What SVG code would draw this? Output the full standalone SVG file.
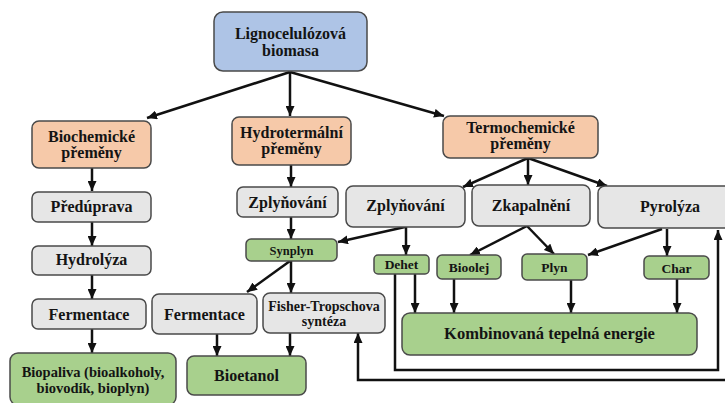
<svg xmlns="http://www.w3.org/2000/svg" width="725" height="403" viewBox="0 0 725 403">
<defs>
<marker id="ah" markerUnits="userSpaceOnUse" markerWidth="10" markerHeight="9" refX="10" refY="4.5" orient="auto">
<path d="M0,0 L10,4.5 L0,9 z" fill="#111"/>
</marker>
<style>
.box{stroke:#4a4a4a;stroke-width:1.5}
.blue{fill:#aec4e6}
.orange{fill:#f6c9a9}
.gray{fill:#e6e6e6}
.green{fill:#a8d08d}
text{font-family:'Liberation Serif','Times New Roman',serif;font-weight:bold;fill:#141414;text-anchor:middle;font-size:16px}
.sm{font-size:13.5px}
.bp{font-size:14.5px}
.ft{font-size:14px}
.ca{fill:none;stroke:#111;stroke-width:2.5;marker-end:url(#ah)}
</style>
</defs>
<rect width="725" height="403" fill="#fff"/>

<g id="connectors">
<path class="ca" d="M290,72 L147,118"/>
<path class="ca" d="M290,72 L290,116"/>
<path class="ca" d="M290,72 L444,116"/>
<path class="ca" d="M92,168 L92,191"/>
<path class="ca" d="M92,222 L92,246"/>
<path class="ca" d="M92,275 L92,299"/>
<path class="ca" d="M92,329 L92,353"/>
<path class="ca" d="M291,165 L291,187"/>
<path class="ca" d="M291,217 L291,239"/>
<path class="ca" d="M290,261 L247,292"/>
<path class="ca" d="M291,261 L291,293"/>
<path class="ca" d="M217,334 L217,356"/>
<path class="ca" d="M290,333 L290,356"/>
<path class="ca" d="M528,158 L463,187"/>
<path class="ca" d="M528,158 L528,185"/>
<path class="ca" d="M528,158 L607,186"/>
<path class="ca" d="M405,227 L338,242"/>
<path class="ca" d="M406,227 L406,255"/>
<path class="ca" d="M527,226 L470,255"/>
<path class="ca" d="M527,226 L554,254"/>
<path class="ca" d="M662,229 L588,255"/>
<path class="ca" d="M667,229 L667,256"/>
<path class="ca" d="M415,274 L415,313"/>
<path class="ca" d="M454,279 L454,313"/>
<path class="ca" d="M571,280 L571,313"/>
<path class="ca" d="M677,279 L677,313"/>
<path class="ca" d="M395,274 L395,370 L718,370 L718,230"/>
<path class="ca" d="M726,380 L358,380 L358,333"/>
</g>

<g id="n-biomasa">
<rect class="box blue" x="214" y="12" width="153" height="59" rx="9"/>
<text x="290.5" y="39">Lignocelulózová</text>
<text x="290.5" y="56">biomasa</text>
</g>
<g id="n-bio">
<rect class="box orange" x="32" y="121" width="119" height="47" rx="7"/>
<text x="91.5" y="142">Biochemické</text>
<text x="91.5" y="158">přeměny</text>
</g>
<g id="n-hydro">
<rect class="box orange" x="232" y="117" width="119" height="48" rx="7"/>
<text x="291.5" y="138">Hydrotermální</text>
<text x="291.5" y="154">přeměny</text>
</g>
<g id="n-termo">
<rect class="box orange" x="443" y="116" width="155" height="42" rx="7"/>
<text x="520.5" y="133">Termochemické</text>
<text x="520.5" y="149">přeměny</text>
</g>
<g id="n-preduprava">
<rect class="box gray" x="32" y="192" width="119" height="30" rx="6"/>
<text x="91.5" y="212">Předúprava</text>
</g>
<g id="n-hydrolyza">
<rect class="box gray" x="32" y="246" width="119" height="29" rx="6"/>
<text x="91.5" y="265">Hydrolýza</text>
</g>
<g id="n-ferm1">
<rect class="box gray" x="32" y="299" width="114" height="30" rx="6"/>
<text x="89" y="320">Fermentace</text>
</g>
<g id="n-biopaliva">
<rect class="box green" x="10" y="353" width="166" height="52" rx="8"/>
<text class="bp" x="93" y="377">Biopaliva (bioalkoholy,</text>
<text class="bp" x="93" y="393">biovodík, bioplyn)</text>
</g>
<g id="n-zply1">
<rect class="box gray" x="237" y="187" width="101" height="30" rx="6"/>
<text x="287.5" y="208">Zplyňování</text>
</g>
<g id="n-synplyn">
<rect class="box green" x="246" y="239" width="91" height="22" rx="5"/>
<text x="291.5" y="255" style="font-size:12.5px">Synplyn</text>
</g>
<g id="n-ferm2">
<rect class="box gray" x="152" y="294" width="105" height="40" rx="7"/>
<text x="204.5" y="320">Fermentace</text>
</g>
<g id="n-fisher">
<rect class="box gray" x="263" y="293" width="122" height="40" rx="7"/>
<text class="ft" x="324" y="311">Fisher-Tropschova</text>
<text class="ft" x="324" y="326">syntéza</text>
</g>
<g id="n-bioetanol">
<rect class="box green" x="187" y="356" width="119" height="39" rx="7"/>
<text x="246.5" y="381">Bioetanol</text>
</g>
<g id="n-zply2">
<rect class="box gray" x="346" y="186" width="119" height="41" rx="7"/>
<text x="405.5" y="211">Zplyňování</text>
</g>
<g id="n-zkap">
<rect class="box gray" x="472" y="185" width="118" height="41" rx="7"/>
<text x="531" y="211">Zkapalnění</text>
</g>
<g id="n-pyro">
<rect class="box gray" x="598" y="186" width="140" height="42" rx="7"/>
<text x="670" y="212">Pyrolýza</text>
</g>
<g id="n-dehet">
<rect class="box green" x="374" y="255" width="55" height="19" rx="4"/>
<text class="sm" x="401.5" y="269">Dehet</text>
</g>
<g id="n-bioolej">
<rect class="box green" x="437" y="255" width="64" height="24" rx="5"/>
<text class="sm" x="469" y="272">Bioolej</text>
</g>
<g id="n-plyn">
<rect class="box green" x="522" y="254" width="65" height="26" rx="5"/>
<text class="sm" x="554.5" y="272">Plyn</text>
</g>
<g id="n-char">
<rect class="box green" x="644" y="256" width="65" height="23" rx="5"/>
<text class="sm" x="676.5" y="273">Char</text>
</g>
<g id="n-komb">
<rect class="box green" x="402" y="313" width="295" height="42" rx="8"/>
<text x="549.5" y="339" style="font-size:16.5px">Kombinovaná tepelná energie</text>
</g>
</svg>
